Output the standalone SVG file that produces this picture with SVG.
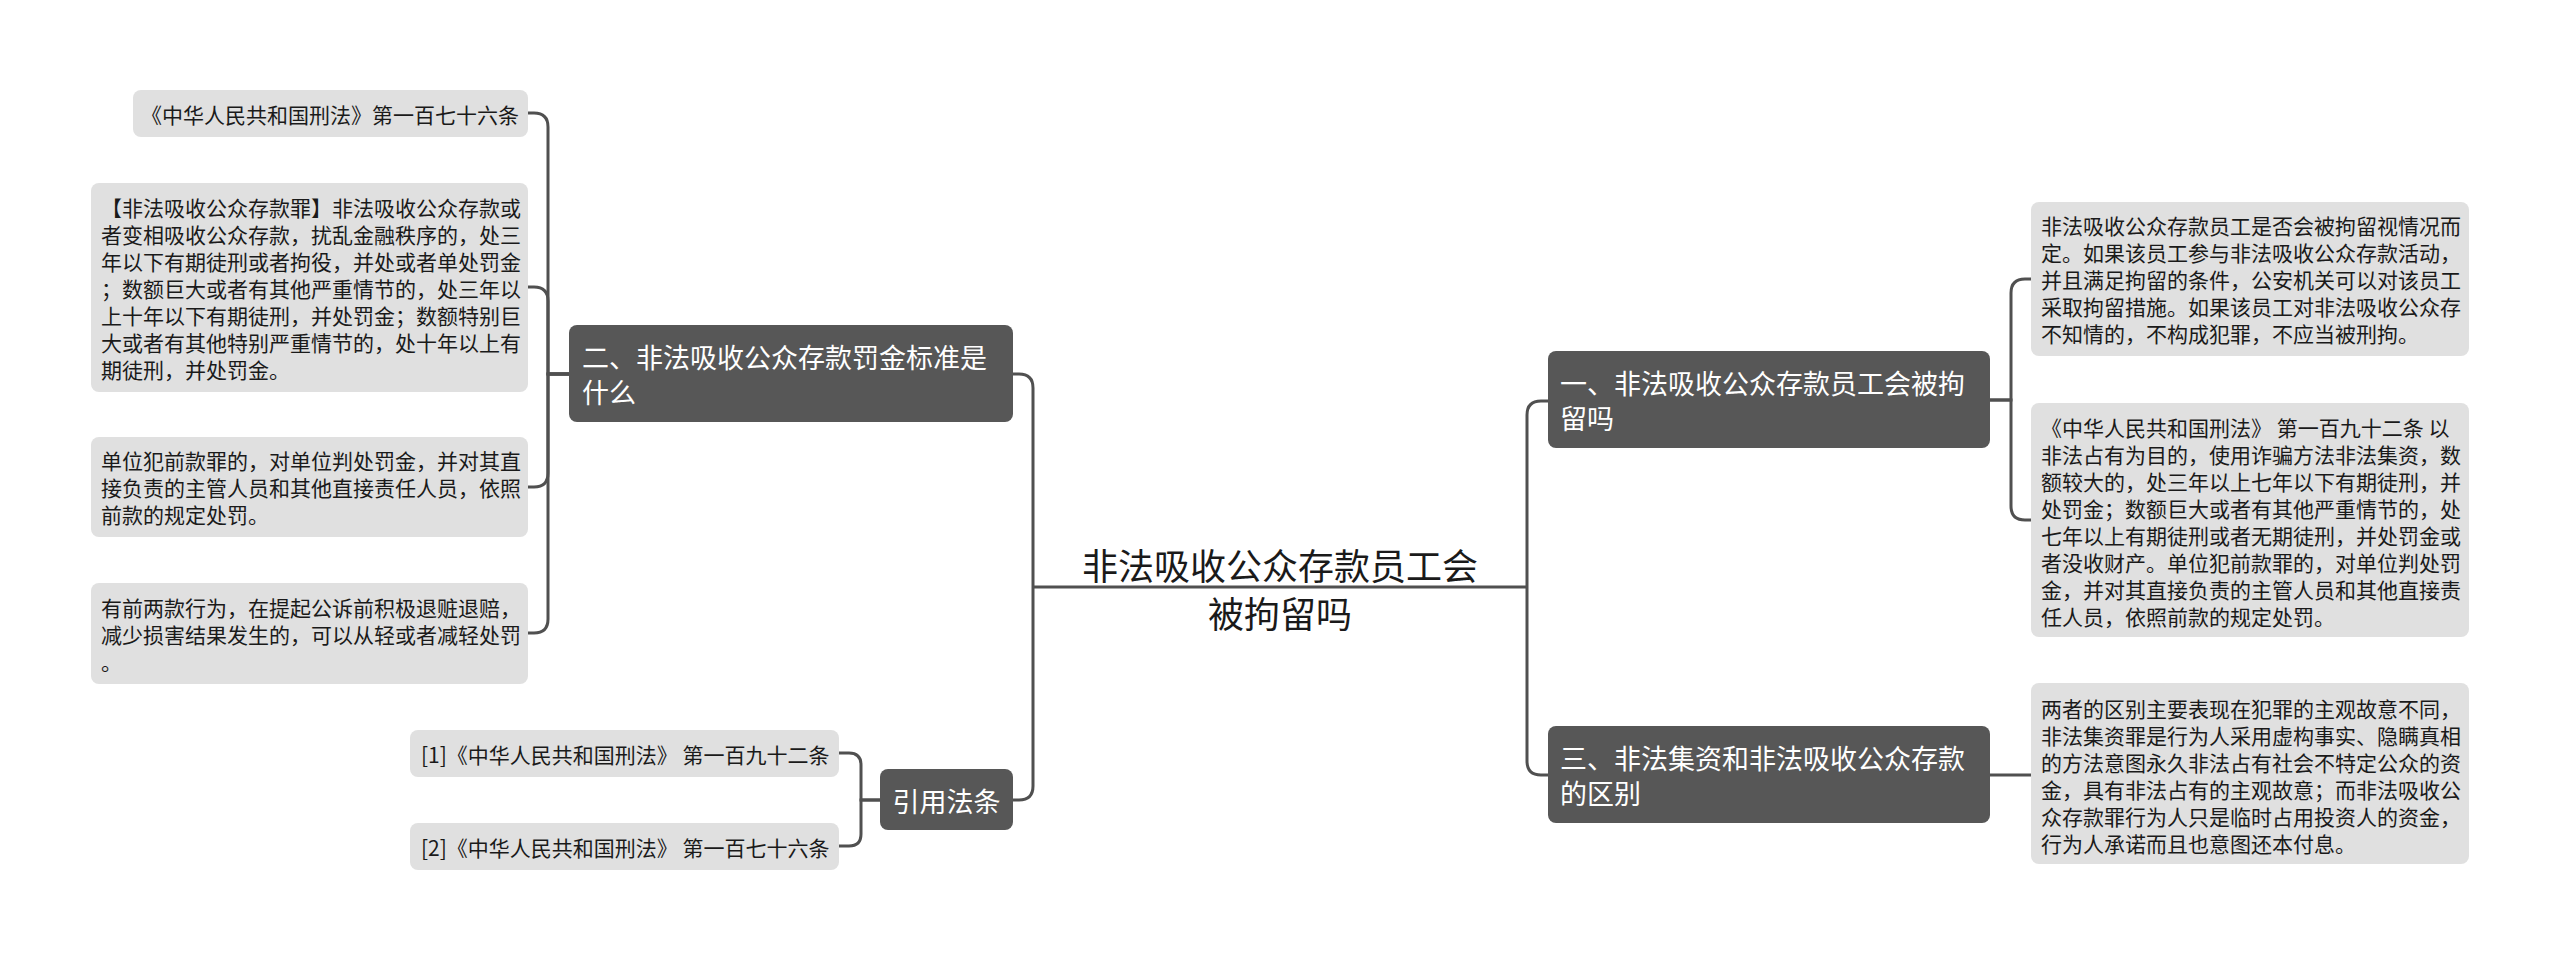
<svg xmlns="http://www.w3.org/2000/svg" width="2560" height="960" viewBox="0 0 2560 960">
<style>
.leaf{fill:#e0e0e0}
.node{fill:#575757}
.lt{font-family:"Noto Sans CJK SC","Noto Sans",sans-serif;font-size:21px;fill:#1a1a1a;dominant-baseline:central}
.nt{font-family:"Noto Sans CJK SC","Noto Sans",sans-serif;font-size:27px;fill:#ffffff;dominant-baseline:central}
.rt{font-family:"Noto Sans CJK SC","Noto Sans",sans-serif;font-size:36px;fill:#1a1a1a;dominant-baseline:central;text-anchor:middle}
.conn{fill:none;stroke:#505050;stroke-width:3}
</style>
<rect width="2560" height="960" fill="#ffffff"/>
<g id="connectors">
<path class="conn" d="M1033,587 H1527"/>
<path class="conn" d="M1033,587 V388 Q1033,374 1019,374 H1013"/>
<path class="conn" d="M1033,587 V786 Q1033,800 1019,800 H1013"/>
<path class="conn" d="M1527,587 V415 Q1527,401 1541,401 H1548"/>
<path class="conn" d="M1527,587 V761 Q1527,775 1541,775 H1548"/>
<path class="conn" d="M1990,400 H2011 V293 Q2011,279 2025,279 H2031"/>
<path class="conn" d="M1990,400 H2011 V506 Q2011,520 2025,520 H2031"/>
<path class="conn" d="M1990,775 H2031"/>
<path class="conn" d="M569,374 H548 V127 Q548,113 534,113 H528"/>
<path class="conn" d="M569,374 H548 V301 Q548,287 534,287 H528"/>
<path class="conn" d="M569,374 H548 V473 Q548,487 534,487 H528"/>
<path class="conn" d="M569,374 H548 V619 Q548,633 534,633 H528"/>
<path class="conn" d="M880,800 H861 V765 Q861,753 849,753 H839"/>
<path class="conn" d="M880,800 H861 V834 Q861,846 849,846 H839"/>
</g>
<g id="root">
<text class="rt" x="1280" y="564">非法吸收公众存款员工会</text>
<text class="rt" x="1280" y="612">被拘留吗</text>
</g>
<g id="node-2">
<rect class="node" x="569" y="325" width="444" height="97" rx="8"/>
<text class="nt" x="582" y="356">二、非法吸收公众存款罚金标准是</text>
<text class="nt" x="582" y="391">什么</text>
</g>
<g id="leaf-2-1">
<rect class="leaf" x="133" y="90" width="395" height="47" rx="8"/>
<text class="lt" x="141" y="113.5" textLength="378" lengthAdjust="spacingAndGlyphs">《中华人民共和国刑法》第一百七十六条</text>
</g>
<g id="leaf-2-2">
<rect class="leaf" x="91" y="183" width="437" height="209" rx="8"/>
<text class="lt" x="101" y="206.5">【非法吸收公众存款罪】非法吸收公众存款或</text>
<text class="lt" x="101" y="233.5">者变相吸收公众存款，扰乱金融秩序的，处三</text>
<text class="lt" x="101" y="260.5">年以下有期徒刑或者拘役，并处或者单处罚金</text>
<text class="lt" x="101" y="287.5">；数额巨大或者有其他严重情节的，处三年以</text>
<text class="lt" x="101" y="314.5">上十年以下有期徒刑，并处罚金；数额特别巨</text>
<text class="lt" x="101" y="341.5">大或者有其他特别严重情节的，处十年以上有</text>
<text class="lt" x="101" y="368.5">期徒刑，并处罚金。</text>
</g>
<g id="leaf-2-3">
<rect class="leaf" x="91" y="437" width="437" height="100" rx="8"/>
<text class="lt" x="101" y="460">单位犯前款罪的，对单位判处罚金，并对其直</text>
<text class="lt" x="101" y="487">接负责的主管人员和其他直接责任人员，依照</text>
<text class="lt" x="101" y="514">前款的规定处罚。</text>
</g>
<g id="leaf-2-4">
<rect class="leaf" x="91" y="583" width="437" height="101" rx="8"/>
<text class="lt" x="101" y="606.5">有前两款行为，在提起公诉前积极退赃退赔，</text>
<text class="lt" x="101" y="633.5">减少损害结果发生的，可以从轻或者减轻处罚</text>
<text class="lt" x="101" y="660.5">。</text>
</g>
<g id="node-cite">
<rect class="node" x="880" y="769" width="133" height="61" rx="8"/>
<text class="nt" x="946.5" y="800" text-anchor="middle">引用法条</text>
</g>
<g id="leaf-cite-1">
<rect class="leaf" x="410" y="730" width="429" height="47" rx="8"/>
<text class="lt" x="421" y="753.5">[1]《中华人民共和国刑法》 第一百九十二条</text>
</g>
<g id="leaf-cite-2">
<rect class="leaf" x="410" y="823" width="429" height="47" rx="8"/>
<text class="lt" x="421" y="846.5">[2]《中华人民共和国刑法》 第一百七十六条</text>
</g>
<g id="node-1">
<rect class="node" x="1548" y="351" width="442" height="97" rx="8"/>
<text class="nt" x="1560" y="382">一、非法吸收公众存款员工会被拘</text>
<text class="nt" x="1560" y="417">留吗</text>
</g>
<g id="leaf-1-1">
<rect class="leaf" x="2031" y="202" width="438" height="154" rx="8"/>
<text class="lt" x="2041" y="225">非法吸收公众存款员工是否会被拘留视情况而</text>
<text class="lt" x="2041" y="252">定。如果该员工参与非法吸收公众存款活动，</text>
<text class="lt" x="2041" y="279">并且满足拘留的条件，公安机关可以对该员工</text>
<text class="lt" x="2041" y="306">采取拘留措施。如果该员工对非法吸收公众存</text>
<text class="lt" x="2041" y="333">不知情的，不构成犯罪，不应当被刑拘。</text>
</g>
<g id="leaf-1-2">
<rect class="leaf" x="2031" y="403" width="438" height="234" rx="8"/>
<text class="lt" x="2041" y="426.5">《中华人民共和国刑法》 第一百九十二条 以</text>
<text class="lt" x="2041" y="453.5">非法占有为目的，使用诈骗方法非法集资，数</text>
<text class="lt" x="2041" y="480.5">额较大的，处三年以上七年以下有期徒刑，并</text>
<text class="lt" x="2041" y="507.5">处罚金；数额巨大或者有其他严重情节的，处</text>
<text class="lt" x="2041" y="534.5">七年以上有期徒刑或者无期徒刑，并处罚金或</text>
<text class="lt" x="2041" y="561.5">者没收财产。单位犯前款罪的，对单位判处罚</text>
<text class="lt" x="2041" y="588.5">金，并对其直接负责的主管人员和其他直接责</text>
<text class="lt" x="2041" y="615.5">任人员，依照前款的规定处罚。</text>
</g>
<g id="node-3">
<rect class="node" x="1548" y="726" width="442" height="97" rx="8"/>
<text class="nt" x="1560" y="757.5">三、非法集资和非法吸收公众存款</text>
<text class="nt" x="1560" y="792.5">的区别</text>
</g>
<g id="leaf-3-1">
<rect class="leaf" x="2031" y="683" width="438" height="181" rx="8"/>
<text class="lt" x="2041" y="708">两者的区别主要表现在犯罪的主观故意不同，</text>
<text class="lt" x="2041" y="735">非法集资罪是行为人采用虚构事实、隐瞒真相</text>
<text class="lt" x="2041" y="762">的方法意图永久非法占有社会不特定公众的资</text>
<text class="lt" x="2041" y="789">金，具有非法占有的主观故意；而非法吸收公</text>
<text class="lt" x="2041" y="816">众存款罪行为人只是临时占用投资人的资金，</text>
<text class="lt" x="2041" y="843">行为人承诺而且也意图还本付息。</text>
</g>
</svg>
